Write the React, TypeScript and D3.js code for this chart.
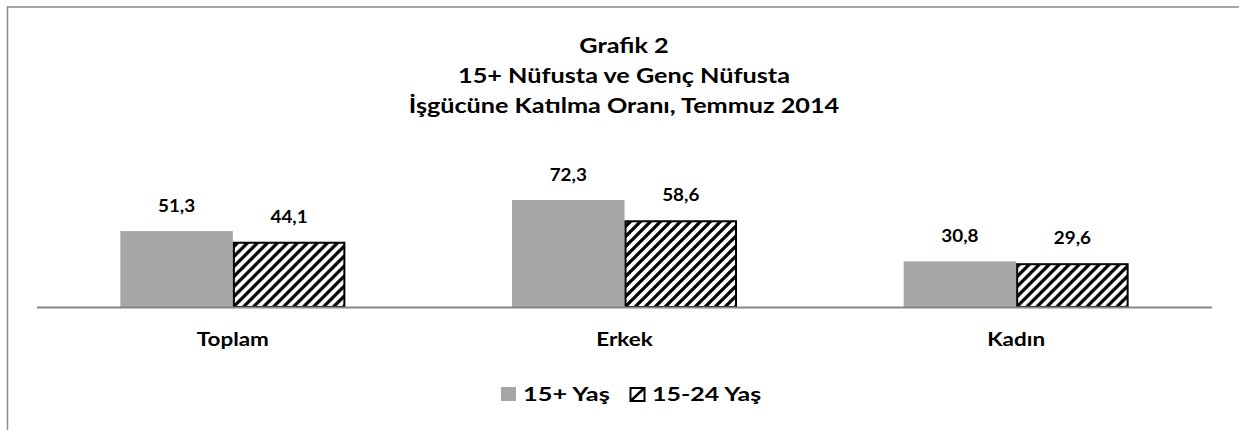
import React from 'react';
import * as d3 from 'd3';

const categories = ['Toplam', 'Erkek', 'Kadın'];
const seriesNames = ['15+ Yaş', '15-24 Yaş'];
const values15plus = [51.3, 72.3, 30.8];
const values15to24 = [44.1, 58.6, 29.6];
const titleLines = ['Grafik 2', '15+ Nüfusta ve Genç Nüfusta', 'İşgücüne Katılma Oranı, Temmuz 2014'];

const W = 1239;
const H = 430;
const FONT = 'Lato, "Open Sans", sans-serif';
const GRAY = '#a6a6a6';

const fmt = (v: number) => d3.format('.1f')(v).replace('.', ',');

// the original text is a bit wider than Lato, so stretch it horizontally
const Label = ({ x, y, size, sx, anchor = 'middle', children }: any) => (
  <text transform={`translate(${x},${y}) scale(${sx},1)`} textAnchor={anchor}
    fontFamily={FONT} fontWeight="bold" fontSize={size} fill="#000">{children}</text>
);

const App = () => {
  const baseline = 307;
  const x0 = d3.scaleBand<string>()
    .domain(categories)
    .range([37, 1212])
    .paddingInner(0.4255)
    .paddingOuter(0.2128);
  const x1 = d3.scaleBand<string>()
    .domain(seriesNames)
    .range([0, x0.bandwidth()]);
  const y = d3.scaleLinear().domain([0, 100]).range([baseline, baseline - 148]);

  const rows = categories.map((c, i) => ({ cat: c, vals: [values15plus[i], values15to24[i]] }));

  return (
    <svg width={W} height={H} style={{ position: 'absolute', left: 0, top: 0, display: 'block' }}>
      <defs>
        <pattern id="hatch" patternUnits="userSpaceOnUse" width="10" height="10">
          <rect width="10" height="10" fill="#fff" />
          <path d="M-2,2 L2,-2 M0,10 L10,0 M8,12 L12,8" stroke="#000" strokeWidth="3.3" />
        </pattern>
      </defs>
      <rect x={0} y={0} width={W} height={H} fill="#fff" />
      {/* frame */}
      <rect x={7.5} y={7} width={W + 20} height={H + 20} fill="none" stroke="#898989" strokeWidth={1.5} />

      {/* title */}
      {titleLines.map((t, i) => (
        <Label key={i} x={624} y={53 + i * 30} size={20.5} sx={1.23}>{t}</Label>
      ))}

      {/* bars */}
      {rows.map((r) => (
        <g key={r.cat} transform={`translate(${x0(r.cat)},0)`}>
          {r.vals.map((v, j) => {
            const bx = x1(seriesNames[j]) as number;
            const bw = x1.bandwidth();
            return (
              <g key={j}>
                {j === 0 ? (
                  <rect x={bx} y={y(v)} width={bw} height={baseline - y(v)} fill={GRAY} />
                ) : (
                  <rect x={bx + 1} y={y(v) + 1} width={bw - 2} height={baseline - y(v) - 1}
                    fill="url(#hatch)" stroke="#000" strokeWidth={2} />
                )}
                <Label x={bx + bw / 2} y={y(v) - 19} size={16.7} sx={1.13}>{fmt(v)}</Label>
              </g>
            );
          })}
          <Label x={x0.bandwidth() / 2} y={346} size={18.7} sx={1.2}>{r.cat}</Label>
        </g>
      ))}

      {/* axis */}
      <line x1={37} x2={1212} y1={baseline + 0.5} y2={baseline + 0.5} stroke="#868686" strokeWidth={2} />

      {/* legend */}
      <rect x={501} y={387} width={15} height={14} fill={GRAY} />
      <Label x={523} y={401} size={19.5} sx={1.3} anchor="start">{seriesNames[0]}</Label>
      <rect x={630.5} y={388} width={14} height={13} fill="#fff" stroke="#000" strokeWidth={2} />
      <line x1={630.5} y1={401} x2={644.5} y2={388} stroke="#000" strokeWidth={2.5} />
      <Label x={652} y={401} size={19.5} sx={1.28} anchor="start">{seriesNames[1]}</Label>
    </svg>
  );
};

export default App;
